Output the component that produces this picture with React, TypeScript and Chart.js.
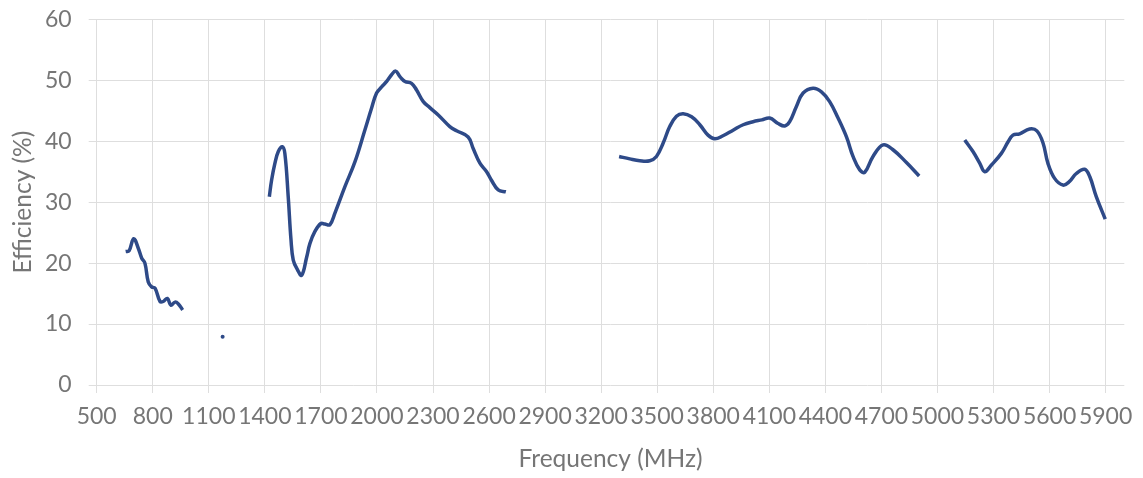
import React, { useEffect, useRef } from "react";
import { Chart, registerables } from "chart.js";

Chart.register(...registerables);

// Band 1 (low band)
const band1Freq = [655, 673, 698, 723, 741, 758, 776, 794, 812, 839, 856, 878, 897, 919, 937, 960];
const band1Eff = [21.9, 22.0, 24.0, 22.4, 20.8, 20.0, 16.9, 16.1, 15.9, 13.7, 13.7, 14.2, 13.1, 13.6, 13.3, 12.3];

// Isolated measurement
const spotFreq = [1174];
const spotEff = [7.9];

// Band 2 (mid/high band)
const band2Freq = [1424, 1436, 1454, 1472, 1493, 1507, 1525, 1540, 1552, 1575, 1597, 1624, 1641, 1668, 1700, 1721, 1748, 1775, 1828, 1882, 1935, 1971, 1998, 2025, 2052, 2078, 2100, 2123, 2150, 2185, 2212, 2248, 2283, 2328, 2390, 2426, 2488, 2515, 2551, 2587, 2613, 2649, 2690];
const band2Eff = [30.9, 33.6, 36.4, 38.3, 39.1, 38.0, 30.9, 23.8, 20.5, 18.9, 18.0, 21.0, 23.2, 25.2, 26.5, 26.4, 26.3, 28.2, 32.5, 36.6, 41.8, 45.4, 47.9, 48.9, 49.8, 50.9, 51.5, 50.6, 49.8, 49.5, 48.4, 46.5, 45.5, 44.3, 42.4, 41.7, 40.7, 38.8, 36.4, 35.0, 33.6, 32.0, 31.7];

// Band 3 (3.3–4.9 GHz)
const band3Freq = [3296, 3353, 3407, 3460, 3496, 3532, 3567, 3603, 3639, 3684, 3728, 3772, 3808, 3852, 3906, 3960, 4013, 4060, 4102, 4147, 4183, 4209, 4245, 4281, 4334, 4379, 4423, 4468, 4513, 4548, 4584, 4611, 4655, 4709, 4762, 4834, 4902];
const band3Eff = [37.5, 37.1, 36.8, 36.8, 37.5, 39.7, 42.4, 44.1, 44.5, 44.0, 42.7, 41.0, 40.4, 40.9, 41.8, 42.7, 43.2, 43.5, 43.8, 42.9, 42.5, 43.2, 45.7, 47.9, 48.7, 48.1, 46.5, 43.8, 40.7, 37.5, 35.3, 34.9, 37.5, 39.4, 38.6, 36.5, 34.3];

// Band 4 (5.1–5.9 GHz)
const band4Freq = [5146, 5190, 5226, 5253, 5289, 5342, 5378, 5404, 5440, 5493, 5532, 5565, 5591, 5627, 5672, 5707, 5743, 5788, 5815, 5850, 5898];
const band4Eff = [40.2, 38.3, 36.4, 35.0, 36.1, 38.0, 39.9, 41.0, 41.2, 42.0, 41.7, 39.7, 36.4, 33.9, 32.8, 33.4, 34.7, 35.4, 34.2, 30.9, 27.2];

const xTicks = [500, 800, 1100, 1400, 1700, 2000, 2300, 2600, 2900, 3200, 3500, 3800, 4100, 4400, 4700, 5000, 5300, 5600, 5900];
const yTicks = [0, 10, 20, 30, 40, 50, 60];

const LINE = "#2E4A88";
const TEXT = "#767676";
const GRID = "#dedede";
const FONT = "Lato, 'Open Sans', sans-serif";
const FS = 23;
const FS_TITLE = 24.5;

const pts = (xs: number[], ys: number[]) => xs.map((x, i) => ({ x, y: ys[i] }));

export default function App() {
  const ref = useRef<HTMLCanvasElement | null>(null);

  useEffect(() => {
    if (!ref.current) return;
    const lineDs = (xs: number[], ys: number[]) => ({
      data: pts(xs, ys),
      borderColor: LINE,
      backgroundColor: LINE,
      borderWidth: 3.5,
      pointRadius: 0,
      tension: 0.4,
      showLine: true,
      fill: false,
    });
    const chart = new Chart(ref.current, {
      type: "scatter",
      data: {
        datasets: [
          lineDs(band1Freq, band1Eff),
          {
            data: pts(spotFreq, spotEff),
            borderColor: LINE,
            backgroundColor: LINE,
            pointRadius: 2,
            pointBorderWidth: 0,
            showLine: false,
          },
          lineDs(band2Freq, band2Eff),
          lineDs(band3Freq, band3Eff),
          lineDs(band4Freq, band4Eff),
        ] as any,
      },
      options: {
        animation: false,
        responsive: true,
        maintainAspectRatio: false,
        layout: { padding: { top: 19.3, right: 18.7, bottom: 0, left: 0 } },
        plugins: { legend: { display: false }, tooltip: { enabled: false } },
        scales: {
          x: {
            type: "linear",
            min: 500,
            max: 6000,
            afterBuildTicks: (scale: any) => {
              scale.ticks = xTicks.map((v) => ({ value: v }));
            },
            afterFit: (scale: any) => {
              scale.height = 93;
              scale.paddingLeft = 0;
              scale.paddingRight = 0;
            },
            grid: { color: GRID, tickColor: GRID, tickLength: 8, drawTicks: true },
            border: { display: false },
            ticks: {
              autoSkip: false,
              maxRotation: 0,
              minRotation: 0,
              padding: 10,
              color: TEXT,
              font: { family: FONT, size: FS },
              callback: (v: any) => String(v),
            },
            title: {
              display: true,
              text: "Frequency (MHz)",
              color: TEXT,
              font: { family: FONT, size: FS_TITLE },
              padding: { top: 0, bottom: 4 },
            },
          },
          y: {
            type: "linear",
            min: 0,
            max: 60,
            afterBuildTicks: (scale: any) => {
              scale.ticks = yTicks.map((v) => ({ value: v }));
            },
            afterFit: (scale: any) => {
              scale.width = 96.7;
              scale.paddingTop = 0;
              scale.paddingBottom = 0;
            },
            grid: { color: GRID, tickColor: GRID, tickLength: 8, drawTicks: true },
            border: { display: false },
            ticks: {
              padding: 17,
              color: TEXT,
              font: { family: FONT, size: FS },
            },
            title: {
              display: true,
              text: "Efficiency (%)",
              color: TEXT,
              font: { family: FONT, size: FS_TITLE },
              padding: { top: 8, bottom: 0 },
            },
          },
        },
      },
    });
    return () => chart.destroy();
  }, []);

  return (
    <div style={{ position: "fixed", left: 0, top: 0, width: 1143, height: 478, background: "#fff" }}>
      <canvas ref={ref} />
    </div>
  );
}
